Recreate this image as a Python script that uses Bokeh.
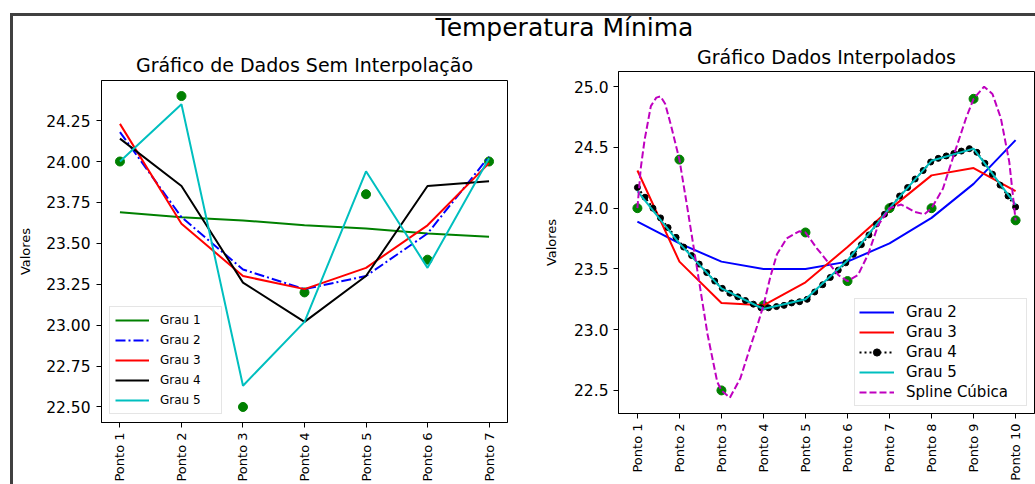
import math
from bokeh.plotting import figure
from bokeh.models import Range1d, FixedTicker, NumeralTickFormatter, Legend, LegendItem, Div
from bokeh.layouts import column, row
from bokeh.embed import file_html
from bokeh.resources import INLINE

FONT = "DejaVu Sans"
BORDER = "#404040"

# ---------------- data ----------------
main_title = "Temperatura Mínima"
left_title = "Gráfico de Dados Sem Interpolação"
right_title = "Gráfico Dados Interpolados"

left_labels = ["Ponto 1", "Ponto 2", "Ponto 3", "Ponto 4", "Ponto 5", "Ponto 6", "Ponto 7"]
left_x = [0, 1, 2, 3, 4, 5, 6]
left_values = [24.0, 24.4, 22.5, 23.2, 23.8, 23.4, 24.0]
left_grau1 = [23.69, 23.66, 23.64, 23.61, 23.59, 23.56, 23.54]
left_grau2 = [24.18, 23.66, 23.34, 23.22, 23.30, 23.56, 24.03]
left_grau3 = [24.23, 23.62, 23.30, 23.22, 23.35, 23.61, 23.99]
left_grau4 = [24.14, 23.85, 23.26, 23.02, 23.30, 23.85, 23.88]
left_grau5 = [24.00, 24.35, 22.63, 23.02, 23.94, 23.35, 24.02]
left_yticks = [22.50, 22.75, 23.00, 23.25, 23.50, 23.75, 24.00, 24.25]

right_labels = ["Ponto 1", "Ponto 2", "Ponto 3", "Ponto 4", "Ponto 5",
                "Ponto 6", "Ponto 7", "Ponto 8", "Ponto 9", "Ponto 10"]
right_x = [0, 1, 2, 3, 4, 5, 6, 7, 8, 9]
right_values = [24.0, 24.4, 22.5, 23.2, 23.8, 23.4, 24.0, 24.0, 24.9, 23.9]
right_grau2 = [23.89, 23.71, 23.56, 23.50, 23.50, 23.56, 23.71, 23.92, 24.20, 24.56]
right_grau3 = [24.31, 23.56, 23.22, 23.20, 23.39, 23.68, 23.99, 24.27, 24.33, 24.14]
right_grau4_x = [0.00, 0.18, 0.37, 0.55, 0.73, 0.92, 1.10, 1.29, 1.47, 1.65,
                 1.84, 2.02, 2.20, 2.39, 2.57, 2.76, 2.94, 3.12, 3.31, 3.49,
                 3.67, 3.86, 4.04, 4.22, 4.41, 4.59, 4.78, 4.96, 5.14, 5.33,
                 5.51, 5.69, 5.88, 6.06, 6.24, 6.43, 6.61, 6.80, 6.98, 7.16,
                 7.35, 7.53, 7.71, 7.90, 8.08, 8.27, 8.45, 8.63, 8.82, 9.00]
right_grau4 = [24.17, 24.09, 24.00, 23.92, 23.84, 23.76, 23.68, 23.61, 23.54, 23.47,
               23.40, 23.34, 23.30, 23.27, 23.24, 23.21, 23.18, 23.18, 23.19, 23.20,
               23.22, 23.23, 23.25, 23.31, 23.37, 23.43, 23.49, 23.55, 23.62, 23.70,
               23.78, 23.87, 23.95, 24.02, 24.10, 24.17, 24.24, 24.31, 24.38, 24.41,
               24.43, 24.45, 24.47, 24.49, 24.46, 24.37, 24.28, 24.19, 24.10, 24.01]
right_grau5 = [24.14, 23.71, 23.34, 23.17, 23.25, 23.57, 24.00, 24.39, 24.49, 24.03]
spline_x = [0.00, 0.08, 0.17, 0.32, 0.45, 0.55, 0.66, 0.80, 1.00, 1.19,
            1.43, 1.67, 1.90, 2.00, 2.20, 2.45, 2.68, 2.85, 3.00, 3.16,
            3.32, 3.55, 3.85, 4.00, 4.27, 4.55, 4.78, 5.00, 5.25, 5.49,
            5.73, 6.00, 6.28, 6.60, 6.83, 7.00, 7.27, 7.58, 7.82, 8.00,
            8.25, 8.45, 8.65, 8.85, 9.00]
spline_y = [24.00, 24.33, 24.56, 24.84, 24.91, 24.92, 24.86, 24.68, 24.40, 24.00,
            23.48, 22.96, 22.57, 22.50, 22.44, 22.60, 22.85, 23.03, 23.20, 23.43,
            23.62, 23.75, 23.81, 23.80, 23.67, 23.55, 23.45, 23.40, 23.45, 23.62,
            23.86, 24.00, 24.03, 23.97, 23.95, 24.00, 24.16, 24.49, 24.74, 24.90,
            25.00, 24.94, 24.74, 24.38, 23.90]
right_yticks = [22.5, 23.0, 23.5, 24.0, 24.5, 25.0]


def style(p, labels, yticks, yfmt, ylabel_standoff, axis_label_standoff, title_standoff):
    p.outline_line_color = "black"
    p.outline_line_width = 1
    p.xgrid.visible = False
    p.ygrid.visible = False
    p.background_fill_color = "white"
    p.border_fill_color = "white"
    p.border_fill_alpha = 0
    p.title.text_font = FONT
    p.title.text_font_size = "19px"
    p.title.text_font_style = "normal"
    p.title.text_color = "black"
    p.title.align = "center"
    p.title.standoff = title_standoff
    for ax in (p.xaxis[0], p.yaxis[0]):
        ax.axis_line_color = "black"
        ax.major_tick_line_color = "black"
        ax.major_tick_out = 5
        ax.major_tick_in = 0
        ax.minor_tick_line_color = None
        ax.major_label_text_font = FONT
        ax.major_label_text_color = "black"
    xa = p.xaxis[0]
    xa.ticker = FixedTicker(ticks=list(range(len(labels))))
    xa.major_label_overrides = {i: lab for i, lab in enumerate(labels)}
    xa.major_label_orientation = math.pi / 2
    xa.major_label_text_font_size = "13px"
    xa.major_label_standoff = 5
    ya = p.yaxis[0]
    ya.ticker = FixedTicker(ticks=yticks)
    ya.formatter = NumeralTickFormatter(format=yfmt)
    ya.major_label_text_font_size = "15.5px"
    ya.major_label_standoff = ylabel_standoff
    ya.axis_label = "Valores"
    ya.axis_label_text_font = FONT
    ya.axis_label_text_font_size = "13px"
    ya.axis_label_text_font_style = "normal"
    ya.axis_label_text_color = "black"
    ya.axis_label_standoff = axis_label_standoff


def make_legend(items, location, margin, padding, spacing, gw, gh, standoff, size, lw):
    return Legend(items=items, location=location, margin=margin, padding=padding,
                  spacing=spacing, glyph_width=gw, glyph_height=gh, label_height=gh,
                  label_standoff=standoff, label_width=lw,
                  label_text_font=FONT, label_text_font_size=size, label_text_color="black",
                  border_line_color="#cccccc", background_fill_alpha=0.8)


# ---------------- left figure ----------------
p1 = figure(width=527, height=448, title=left_title,
            x_range=Range1d(-0.3, 6.3), y_range=Range1d(22.405, 24.495),
            output_backend="svg", toolbar_location=None, frame_align=False,
            min_border_left=88, min_border_right=33, min_border_top=44, min_border_bottom=61)
style(p1, left_labels, left_yticks, "0.00", 6, 10, 10)

p1.scatter(left_x, left_values, size=9, color="#008000")
l1 = p1.line(left_x, left_grau1, color="#008000", line_width=2)
l2 = p1.line(left_x, left_grau2, color="#0000ff", line_width=2, line_dash="10 3 2 3")
l3 = p1.line(left_x, left_grau3, color="#ff0000", line_width=2)
l4 = p1.line(left_x, left_grau4, color="#000000", line_width=2)
l5 = p1.line(left_x, left_grau5, color="#00bfbf", line_width=2)

leg1 = make_legend([LegendItem(label="Grau 1", renderers=[l1]),
                    LegendItem(label="Grau 2", renderers=[l2]),
                    LegendItem(label="Grau 3", renderers=[l3]),
                    LegendItem(label="Grau 4", renderers=[l4]),
                    LegendItem(label="Grau 5", renderers=[l5])],
                   "bottom_left", 8, 5, 4, 34, 16, 11, "12px", 56)
p1.add_layout(leg1)

# ---------------- right figure ----------------
p2 = figure(width=495, height=448, title=right_title,
            x_range=Range1d(-0.45, 9.45), y_range=Range1d(22.31, 25.125),
            output_backend="svg", toolbar_location=None, frame_align=False,
            min_border_left=77, min_border_right=1, min_border_top=35, min_border_bottom=71)
style(p2, right_labels, right_yticks, "0.0", 5, 12, 7)

p2.scatter(right_x, right_values, size=9, color="#008000")
r2 = p2.line(right_x, right_grau2, color="#0000ff", line_width=2)
r3 = p2.line(right_x, right_grau3, color="#ff0000", line_width=2)
r4 = p2.line(right_grau4_x, right_grau4, color="#000000", line_width=2, line_dash="2 3")
r4m = p2.scatter(right_grau4_x, right_grau4, size=6, color="#000000")
r5 = p2.line(right_x, right_grau5, color="#00bfbf", line_width=2)
rs = p2.line(spline_x, spline_y, color="#bf00bf", line_width=2, line_dash="7 3")

leg2 = make_legend([LegendItem(label="Grau 2", renderers=[r2]),
                    LegendItem(label="Grau 3", renderers=[r3]),
                    LegendItem(label="Grau 4", renderers=[r4, r4m]),
                    LegendItem(label="Grau 5", renderers=[r5]),
                    LegendItem(label="Spline Cúbica", renderers=[rs])],
                   "bottom_right", 7, 4, 2, 35, 18, 12, "15px", 116)
p2.add_layout(leg2)

# ---------------- page layout ----------------
title_div = Div(text=('<div style="position:relative; top:-3px; width:1022px; box-sizing:border-box; '
                      'padding-left:81px; text-align:center; font-family:\'DejaVu Sans\'; '
                      'font-size:25px; line-height:29px; color:black; white-space:nowrap;">'
                      + main_title + '</div>'),
                width=1022, height=20, margin=0,
                styles={"overflow": "visible", "position": "relative", "z-index": "5"})
top_bar = Div(text="", width=1025, height=3, margin=0, styles={"background-color": BORDER})
left_bar = Div(text="", width=3, height=468, margin=0, styles={"background-color": BORDER})

inner = column(title_div, row(p1, p2, margin=0), margin=0)
root = column(top_bar, row(left_bar, inner, margin=0), margin=(13, 0, 0, 10))

open("out.html", "w").write(file_html(root, INLINE))
